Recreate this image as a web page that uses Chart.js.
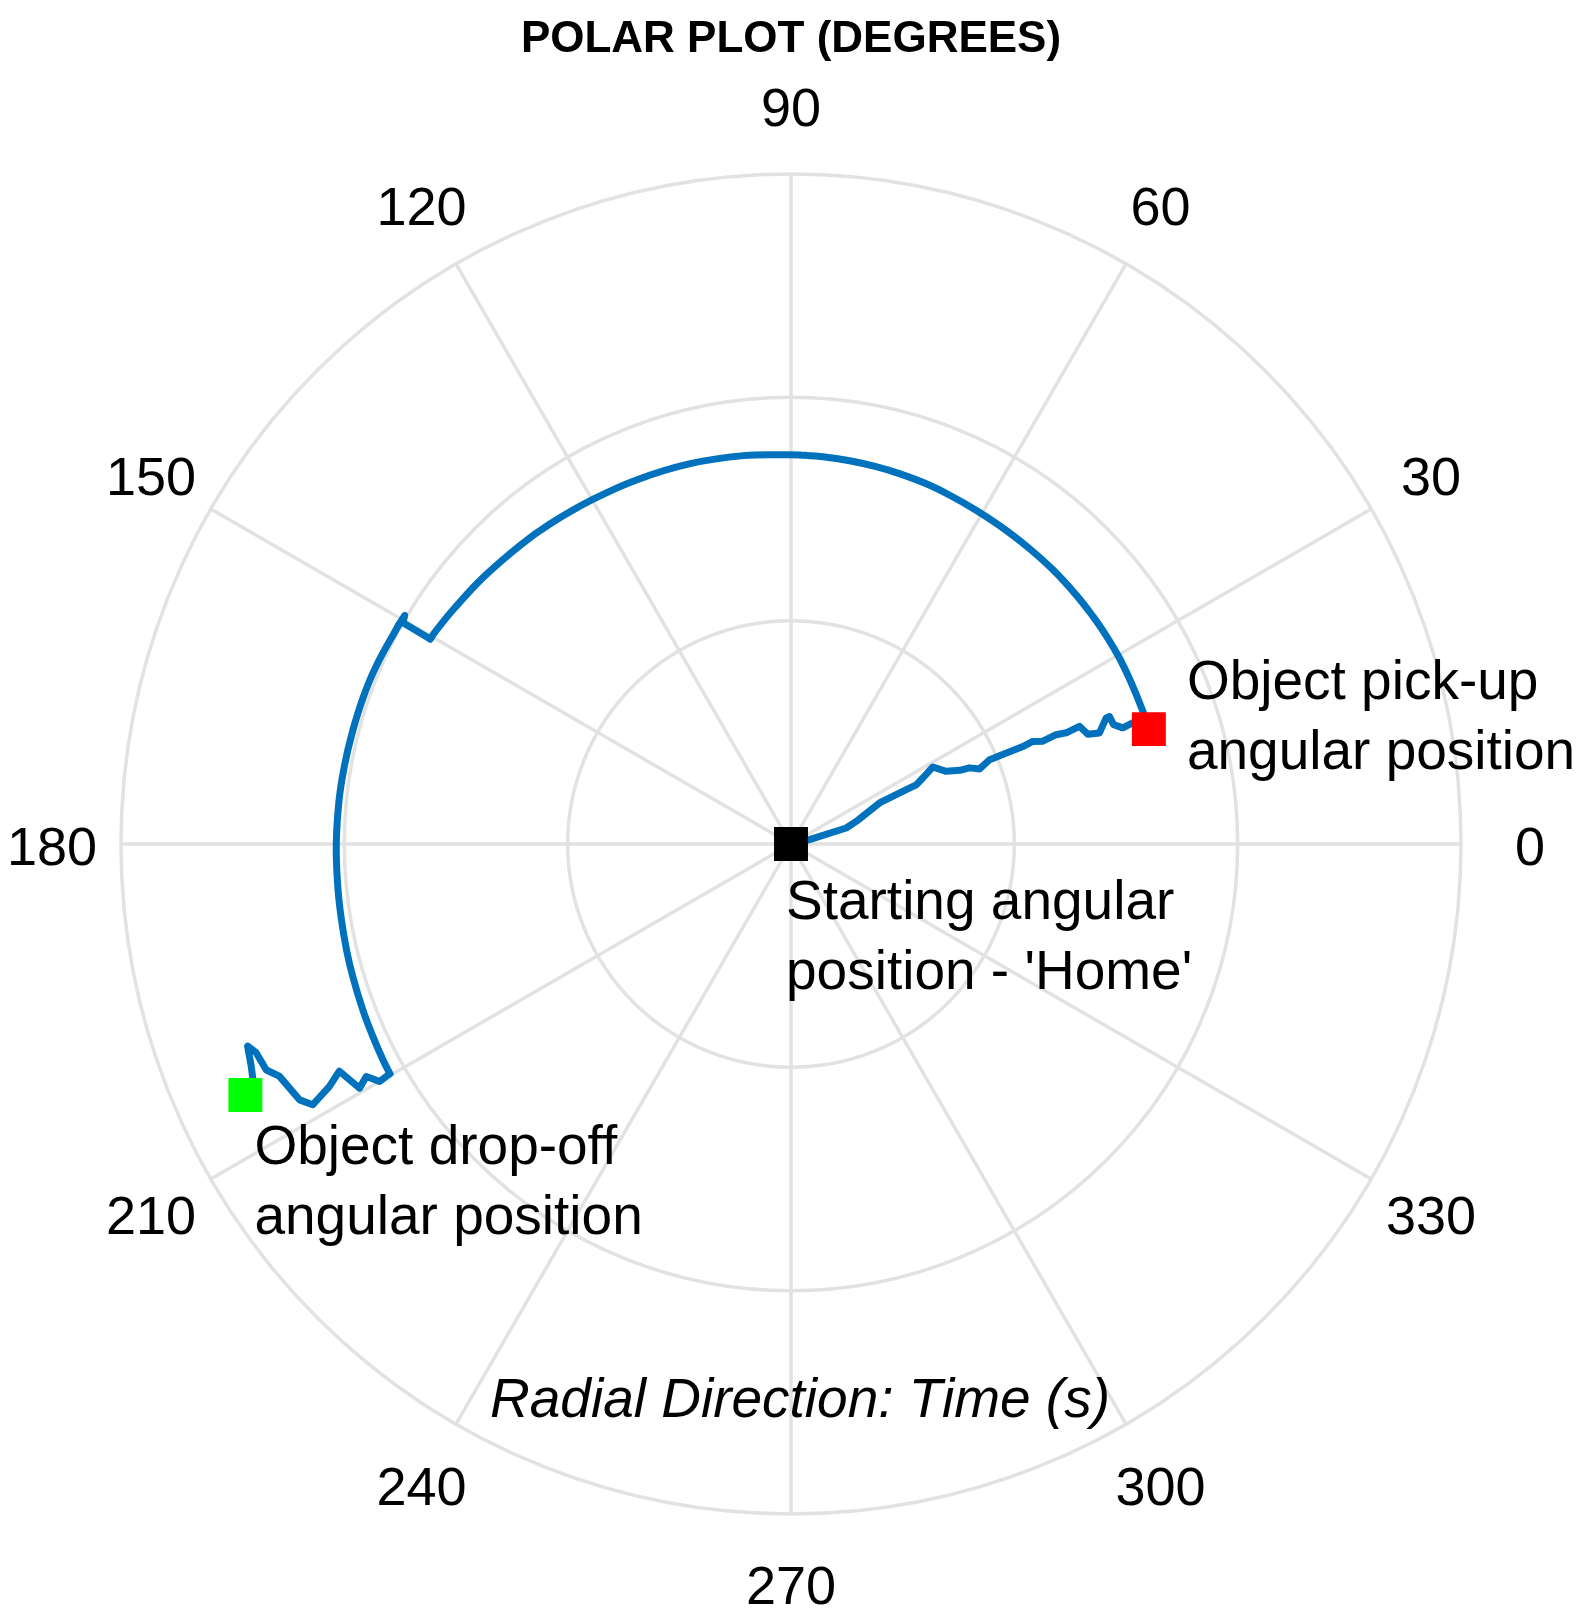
<!DOCTYPE html>
<html>
<head>
<meta charset="utf-8">
<script src="https://cdn.jsdelivr.net/npm/chart.js@4.4.1/dist/chart.umd.min.js"></script>
<style>
  html, body { margin: 0; padding: 0; background: #fff; }
  #wrap { width: 1583px; height: 1617px; position: relative; }
</style>
</head>
<body>
<div id="wrap"><canvas id="polarChart"></canvas></div>
<script>
// angular ticks (deg) and radial rings (time, s)
const angleTicks = [0, 30, 60, 90, 120, 150, 180, 210, 240, 270, 300, 330];
const ringTimes = [10, 20, 30];
const rMax = 30;

// trajectory pieces: angle (deg) and time (s)
// home -> pick-up
const reachAngle = [0, 13.1, 16.2, 19.1, 24.9, 25.2, 25.3, 26.6, 28.5, 25.1, 23.6, 23.1, 21.7, 23.0, 22.9,
  22.8, 23.0, 22.2, 22.4, 22.0, 22.2, 20.3, 19.8, 21.8, 21.8, 20.3, 19.3, 19.6, 17.8];
const reachTime = [0, 0.85, 2.57, 3.09, 4.37, 5.53, 6.20, 6.60, 7.23, 7.67, 8.24, 8.69, 9.09, 9.66, 10.29,
  11.26, 11.76, 12.18, 12.84, 13.29, 13.95, 14.17, 14.68, 15.20, 15.36, 15.40, 15.74, 16.40, 16.83];

// swing up to 150 deg
const swing1Angle = [17.8, 20.6, 25.4, 29.7, 33.8, 37.0, 41.0, 46.3, 51.5, 56.7, 61.0, 65.6, 69.5, 73.7, 77.3,
  81.3, 85.0, 88.7, 90.2, 97, 105, 113, 120, 127, 132, 139, 145, 148.9, 150.4];
const swing1Time = [16.83, 16.84, 16.86, 16.90, 16.92, 16.93, 16.95, 16.98, 17.00, 17.04, 17.09, 17.16, 17.23, 17.28, 17.32,
  17.36, 17.39, 17.42, 17.43, 17.52, 17.62, 17.71, 17.80, 17.94, 18.05, 18.23, 18.40, 18.54, 18.58];

// pause at 150 deg
const pauseAngle = [150.4, 150.3, 149.4, 150.9];
const pauseTime = [18.58, 20.00, 20.10, 20.12];

// swing on to 210 deg
const swing2Angle = [150.9, 156.8, 161.0, 165.8, 170.1, 174.4, 179.9, 184.9, 189.1, 193.4, 196.8, 201.2, 204.7, 207.9, 209.8];
const swing2Time = [20.12, 20.21, 20.25, 20.27, 20.30, 20.33, 20.36, 20.38, 20.41, 20.46, 20.50, 20.56, 20.61, 20.67, 20.70];

// settle to drop-off
const placeAngle = [209.8, 210.0, 208.7, 209.5, 206.7, 207.7, 208.6, 207.5, 204.4, 203.3, 201.3, 200.4, 202.4, 203.5, 204.7];
const placeTime = [20.70, 21.27, 21.68, 22.20, 22.64, 23.34, 24.39, 24.81, 25.16, 25.58, 25.71, 25.96, 26.14, 26.28, 26.89];

// key positions
const markerNames = ['home', 'pickup', 'dropoff'];
const markerAngle = [0, 17.8, 204.7];
const markerTime = [0, 16.83, 26.89];
const markerColors = ['#000000', '#ff0000', '#00ff00'];

const chartTitle = 'POLAR PLOT (DEGREES)';
const radialLabel = 'Radial Direction: Time (s)';
const annotationLines = {
  home: ['Starting angular', "position - 'Home'"],
  pickup: ['Object pick-up', 'angular position'],
  dropoff: ['Object drop-off', 'angular position']
};

function toXY(angleDeg, r) {
  const a = angleDeg * Math.PI / 180;
  return { x: r * Math.cos(a), y: r * Math.sin(a) };
}

function piece(angles, times, smooth) {
  return {
    data: angles.map((a, i) => toXY(a, times[i])),
    showLine: true,
    borderColor: '#0072bd',
    borderWidth: 7,
    borderJoinStyle: 'round',
    borderCapStyle: 'round',
    pointRadius: 0,
    tension: smooth ? 0.4 : 0,
    fill: false
  };
}

const markerPoints = markerAngle.map((a, i) => toXY(a, markerTime[i]));

const FONT = "'Liberation Sans', Arial, Helvetica, sans-serif";

const polarDecor = {
  id: 'polarDecor',
  beforeDatasetsDraw(chart) {
    const { ctx, scales: { x, y } } = chart;
    const cx = x.getPixelForValue(0);
    const cy = y.getPixelForValue(0);
    const rad = v => x.getPixelForValue(v) - cx;
    ctx.save();
    ctx.strokeStyle = '#e2e2e2';
    ctx.lineWidth = 3.5;
    ringTimes.forEach(t => {
      ctx.beginPath();
      ctx.arc(cx, cy, rad(t), 0, Math.PI * 2);
      ctx.stroke();
    });
    angleTicks.forEach(a => {
      const p = toXY(a, rMax);
      ctx.beginPath();
      ctx.moveTo(cx, cy);
      ctx.lineTo(x.getPixelForValue(p.x), y.getPixelForValue(p.y));
      ctx.stroke();
    });
    ctx.restore();
  },
  afterDatasetsDraw(chart) {
    const { ctx, scales: { x, y } } = chart;
    ctx.save();
    ctx.fillStyle = '#000';
    ctx.textBaseline = 'middle';

    // angle tick labels
    ctx.textAlign = 'center';
    ctx.font = '54px ' + FONT;
    angleTicks.forEach(a => {
      const p = toXY(a, rMax * 1.103);
      ctx.fillText(String(a), x.getPixelForValue(p.x), y.getPixelForValue(p.y) + 6);
    });

    // title
    ctx.font = 'bold 44px ' + FONT;
    ctx.fillText(chartTitle, x.getPixelForValue(0), 40);

    // radial axis label
    ctx.font = 'italic 55px ' + FONT;
    ctx.fillText(radialLabel, x.getPixelForValue(0) + 9, 1402);

    // annotations next to markers
    ctx.textAlign = 'left';
    ctx.font = '55px ' + FONT;
    const offsets = { home: [-5, 60], pickup: [38, -45], dropoff: [9, 54] };
    markerNames.forEach((name, i) => {
      const px = x.getPixelForValue(markerPoints[i].x) + offsets[name][0];
      const py = y.getPixelForValue(markerPoints[i].y) + offsets[name][1];
      annotationLines[name].forEach((line, j) => {
        ctx.fillText(line, px, py + j * 70);
      });
    });
    ctx.restore();
  }
};

const ctx = document.getElementById('polarChart').getContext('2d');
new Chart(ctx, {
  type: 'scatter',
  data: {
    datasets: [
      {
        label: 'Markers',
        data: markerPoints,
        pointStyle: 'rect',
        pointRadius: 24,
        pointBackgroundColor: markerColors,
        pointBorderWidth: 0,
        showLine: false
      },
      piece(reachAngle, reachTime, false),
      piece(swing1Angle, swing1Time, true),
      piece(pauseAngle, pauseTime, false),
      piece(swing2Angle, swing2Time, true),
      piece(placeAngle, placeTime, false)
    ]
  },
  options: {
    responsive: true,
    maintainAspectRatio: false,
    animation: false,
    layout: { padding: { left: 121, right: 122, top: 174, bottom: 103 } },
    scales: {
      x: { type: 'linear', min: -rMax, max: rMax, display: false },
      y: { type: 'linear', min: -rMax, max: rMax, display: false }
    },
    plugins: {
      legend: { display: false },
      tooltip: { enabled: false },
      title: { display: false }
    }
  },
  plugins: [polarDecor]
});
</script>
</body>
</html>
